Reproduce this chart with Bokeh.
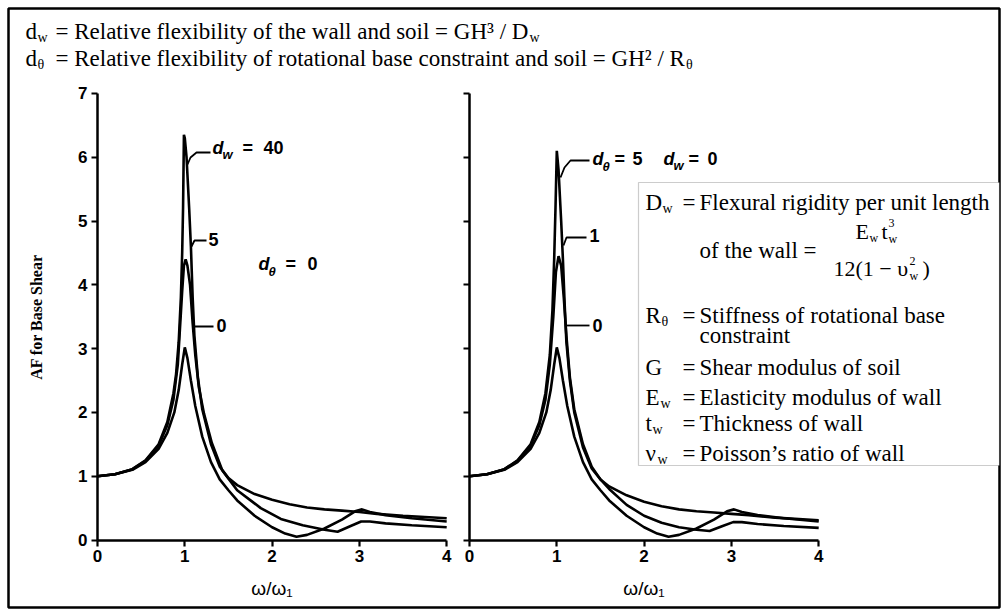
from bokeh.plotting import figure
from bokeh.models import Range1d, LinearAxis, FixedTicker, Label, BoxAnnotation
from bokeh.embed import file_html
from bokeh.resources import INLINE

# ---------------- data ----------------
x_ticks = [0, 1, 2, 3, 4]
y_ticks = [0, 1, 2, 3, 4, 5, 6, 7]

# left panel: d_theta = 0, curves for d_w = 0, 5, 40
dw0_x = [0, 0.2, 0.4, 0.55, 0.7, 0.8, 0.88, 0.93, 0.97, 1.0, 1.03, 1.07, 1.12, 1.2, 1.3, 1.4,
         1.5, 1.6, 1.8, 2.0, 2.15, 2.28, 2.4, 2.6, 2.8, 2.95, 3.03, 3.12, 3.3, 3.6, 4.0]
dw0_af = [1.0, 1.03, 1.1, 1.22, 1.43, 1.68, 2.0, 2.35, 2.75, 3.02, 2.85, 2.5, 2.1, 1.62, 1.22, 0.95,
          0.78, 0.62, 0.38, 0.2, 0.1, 0.05, 0.08, 0.18, 0.32, 0.45, 0.48, 0.44, 0.39, 0.34, 0.29]

dw5_x = [0, 0.2, 0.4, 0.55, 0.7, 0.8, 0.87, 0.92, 0.97, 0.99, 1.01, 1.03, 1.06, 1.09, 1.12, 1.16,
         1.22, 1.31, 1.43, 1.6, 1.87, 2.1, 2.35, 2.6, 2.75, 2.9, 3.02, 3.12, 3.3, 3.6, 4.0]
dw5_af = [1.0, 1.03, 1.11, 1.24, 1.48, 1.8, 2.2, 2.75, 3.9, 4.3, 4.4, 4.3, 4.0, 3.4, 2.9, 2.4,
          1.98, 1.52, 1.09, 0.78, 0.5, 0.33, 0.23, 0.16, 0.13, 0.22, 0.29, 0.29, 0.26, 0.23, 0.2]

dw40_x = [0, 0.2, 0.4, 0.55, 0.7, 0.8, 0.87, 0.9, 0.93, 0.955, 0.97, 0.98, 0.99, 1.0, 1.02, 1.05,
          1.07, 1.09, 1.11, 1.15, 1.2, 1.3, 1.4, 1.5, 1.6, 1.8, 2.0, 2.2, 2.4, 2.6, 2.8, 3.0,
          3.2, 3.5, 4.0]
dw40_af = [1.0, 1.03, 1.11, 1.25, 1.5, 1.85, 2.3, 2.6, 3.1, 3.8, 4.5, 5.2, 6.35, 6.3, 6.0, 5.2,
           4.6, 3.8, 3.2, 2.55, 2.05, 1.5, 1.15, 0.97, 0.86, 0.72, 0.63, 0.56, 0.51, 0.48, 0.46, 0.44,
           0.41, 0.38, 0.34]

# right panel: d_w = 0, curves for d_theta = 0, 1, 5
dt0_x = dw0_x
dt0_af = dw0_af

dt1_x = [0, 0.2, 0.4, 0.55, 0.7, 0.8, 0.87, 0.92, 0.96, 0.99, 1.02, 1.05, 1.08, 1.11, 1.15, 1.2,
         1.3, 1.4, 1.5, 1.6, 1.8, 2.0, 2.2, 2.4, 2.6, 2.75, 2.9, 3.02, 3.12, 3.3, 3.6, 4.0]
dt1_af = [1.0, 1.03, 1.11, 1.24, 1.48, 1.8, 2.2, 2.75, 3.5, 4.2, 4.45, 4.3, 3.8, 3.2, 2.55, 2.05,
          1.5, 1.15, 0.95, 0.8, 0.55, 0.38, 0.27, 0.2, 0.16, 0.14, 0.22, 0.28, 0.28, 0.25, 0.22, 0.19]

dt5_x = [0, 0.2, 0.4, 0.55, 0.7, 0.8, 0.87, 0.92, 0.95, 0.97, 0.985, 1.0, 1.02, 1.05, 1.07, 1.09,
         1.11, 1.15, 1.2, 1.3, 1.4, 1.5, 1.6, 1.8, 2.0, 2.2, 2.4, 2.6, 2.8, 3.0, 3.2, 3.5, 4.0]
dt5_af = [1.0, 1.03, 1.11, 1.25, 1.5, 1.85, 2.3, 2.9, 3.6, 4.4, 5.2, 6.1, 5.8, 5.0, 4.4, 3.7,
          3.1, 2.5, 2.0, 1.45, 1.12, 0.95, 0.84, 0.7, 0.6, 0.53, 0.48, 0.45, 0.43, 0.41, 0.39, 0.35, 0.31]

y_label = "AF for Base Shear"
x_label = "ω/ω₁"

# ---------------- layout (pixels of the page) ----------------
FL, FT, FR, FB = 8, 8, 999, 607          # outer frame = the picture's border
X0L, X0R, Y0 = 97.0, 469.0, 539.5        # where x=0 (left / right panel) and y=0 sit
SX, SY = 87.3, 63.8                      # pixels per unit


def xl(px):
    return (px - X0L) / SX


def yd(py):
    return (Y0 - py) / SY


p = figure(width=1006, height=614, output_backend="svg", toolbar_location=None,
           x_axis_type=None, y_axis_type=None, title=None,
           x_range=Range1d(xl(FL), xl(FR)), y_range=Range1d(yd(FB), yd(FT)),
           min_border_left=FL, min_border_right=1006 - FR,
           min_border_top=FT, min_border_bottom=614 - FB)
p.extra_x_ranges = {"r": Range1d((FL - X0R) / SX, (FR - X0R) / SX)}
p.outline_line_color = "black"
p.outline_line_width = 2.5
p.background_fill_color = "white"
p.border_fill_color = "white"

SANS = "Liberation Sans"
SERIF = "Liberation Serif"


def style_axis(ax):
    ax.axis_line_width = 2.5
    ax.axis_line_color = "black"
    ax.major_tick_line_width = 2.2
    ax.major_tick_in = 0
    ax.major_tick_out = 6
    ax.minor_tick_line_color = None
    ax.major_label_text_font = SANS
    ax.major_label_text_font_style = "bold"
    ax.major_label_text_font_size = "17px"
    ax.major_label_text_color = "black"
    ax.major_label_standoff = 4
    ax.axis_label_text_color = "black"


# left y-axis
ly = LinearAxis(fixed_location=0, bounds=(0, 7), ticker=FixedTicker(ticks=y_ticks, minor_ticks=[]),
                axis_label=y_label)
style_axis(ly)
ly.axis_label_text_font = SERIF
ly.axis_label_text_font_style = "bold"
ly.axis_label_text_font_size = "16px"
ly.axis_label_standoff = 30
p.add_layout(ly, "left")

# left x-axis
lx = LinearAxis(fixed_location=0, bounds=(0, 4), ticker=FixedTicker(ticks=x_ticks, minor_ticks=[]),
                axis_label=x_label)
style_axis(lx)
lx.axis_label_text_font = SANS
lx.axis_label_text_font_style = "normal"
lx.axis_label_text_font_size = "19px"
lx.axis_label_standoff = 12
p.add_layout(lx, "below")

# right y-axis (no labels)
ry = LinearAxis(x_range_name="r", fixed_location=0, bounds=(0, 7),
                ticker=FixedTicker(ticks=y_ticks, minor_ticks=[]))
style_axis(ry)
ry.major_label_overrides = {t: "" for t in y_ticks}
p.add_layout(ry, "left")

# right x-axis
rx = LinearAxis(x_range_name="r", fixed_location=0, bounds=(0, 4),
                ticker=FixedTicker(ticks=x_ticks, minor_ticks=[]), axis_label=x_label)
style_axis(rx)
rx.axis_label_text_font = SANS
rx.axis_label_text_font_style = "normal"
rx.axis_label_text_font_size = "19px"
rx.axis_label_standoff = 12
p.add_layout(rx, "below")

# curves
LW = 2.6
for xs, ys in [(dw0_x, dw0_af), (dw5_x, dw5_af), (dw40_x, dw40_af)]:
    p.line(xs, ys, line_color="black", line_width=LW)
for xs, ys in [(dt0_x, dt0_af), (dt1_x, dt1_af), (dt5_x, dt5_af)]:
    p.line(xs, ys, line_color="black", line_width=LW, x_range_name="r")


def lab(text, px, py, size, font=SERIF, style="normal", align="left"):
    p.add_layout(Label(x=xl(px), y=yd(py), text=text, text_font=font,
                       text_font_size=f"{size}px", text_font_style=style,
                       text_align=align, text_baseline="middle", text_color="black"))


def leader(pts, w=1.8):
    p.line([xl(a) for a, b in pts], [yd(b) for a, b in pts], line_color="black", line_width=w)


# header
HF = 23
SUB = 14
line1 = "= Relative flexibility of the wall and soil = GH³ / D"
line2 = "= Relative flexibility of rotational base constraint and soil = GH² / R"
lab("d", 25, 31, HF)
lab("w", 37, 37, SUB)
lab(line1, 55, 31, HF)
lab("w", 55 + 20.568 * HF + 1, 37, SUB)
lab("d", 25, 58, HF)
lab("θ", 37, 64, SUB)
lab(line2, 55, 58, HF)
lab("θ", 55 + 27.373 * HF + 1, 64, SUB)

# panel annotations (left)
AF_ = 18
lab("d", 212, 147, AF_, SANS, "bold italic")
lab("w", 222, 154, 13, SANS, "bold italic")
lab("=", 242, 147, AF_, SANS, "bold")
lab("40", 263, 147, AF_, SANS, "bold")
leader([(187, 164), (190, 157), (196, 152), (210, 152)])
lab("5", 208, 239, AF_, SANS, "bold")
leader([(191, 246), (194, 240), (206, 240)])
lab("0", 216, 325, AF_, SANS, "bold")
leader([(194, 326), (213, 326)])
lab("d", 258, 263, AF_, SANS, "bold italic")
lab("θ", 268, 271, 13, SANS, "bold italic")
lab("=", 285, 263, AF_, SANS, "bold")
lab("0", 307, 263, AF_, SANS, "bold")

# panel annotations (right)
lab("d", 592, 158, AF_, SANS, "bold italic")
lab("θ", 602, 166, 13, SANS, "bold italic")
lab("=", 614, 158, AF_, SANS, "bold")
lab("5", 632, 158, AF_, SANS, "bold")
lab("d", 663, 158, AF_, SANS, "bold italic")
lab("w", 673, 165, 13, SANS, "bold italic")
lab("=", 688, 158, AF_, SANS, "bold")
lab("0", 707, 158, AF_, SANS, "bold")
leader([(560, 177), (564, 167), (570, 160), (589, 160)])
lab("1", 589, 235, AF_, SANS, "bold")
leader([(563, 245), (566, 237), (586, 237)])
lab("0", 592, 325, AF_, SANS, "bold")
leader([(566, 325), (589, 325)])

# notation box
p.add_layout(BoxAnnotation(left=xl(638), right=xl(FR), top=yd(182), bottom=yd(465),
                           fill_color="white", fill_alpha=1.0, line_color="#555555", line_width=1.2))
LF = 23
SF = 14
rows = [("D", "w", 202, "Flexural rigidity per unit length"),
        ("R", "θ", 315, "Stiffness of rotational base"),
        ("G", "", 367, "Shear modulus of soil"),
        ("E", "w", 397, "Elasticity modulus of wall"),
        ("t", "w", 423, "Thickness of wall"),
        ("ν", "w", 453, "Poisson’s ratio of wall")]
sub_dx = {"D": 17, "R": 16, "G": 17, "E": 15, "t": 7, "ν": 12}
for sym, sub, y, desc in rows:
    lab(sym, 645, y, LF)
    if sub:
        lab(sub, 645 + sub_dx[sym], y + 6, SF)
    lab("=", 682, y, LF)
    lab(desc, 699, y, LF)
lab("constraint", 699, 335, LF)
lab("of the wall =", 699, 250, LF)
# fraction
FF = 22
lab("E", 855, 231, FF)
lab("w", 869, 237, 12)
lab("t", 881, 231, FF)
lab("3", 888, 222, 12)
lab("w", 888, 238, 12)
leader([(833, 249), (932, 249)], 1.3)
lab("12(1 − υ", 833, 268, FF)
lab("2", 909, 260, 12)
lab("w", 909, 275, 12)
lab(")", 922, 268, FF)

open("out.html", "w").write(file_html(p, INLINE))
